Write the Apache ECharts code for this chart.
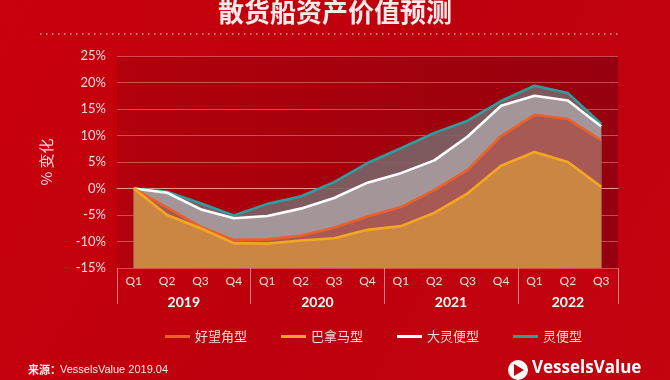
<!DOCTYPE html>
<html><head><meta charset="utf-8">
<script src="https://cdn.jsdelivr.net/npm/echarts@6/dist/echarts.min.js"></script>
<style>html,body{margin:0;padding:0;background:#c2000b}#c{width:670px;height:380px}</style>
</head><body><div id="c"></div>
<script>
var quarters = ['Q1','Q2','Q3','Q4','Q1','Q2','Q3','Q4','Q1','Q2','Q3','Q4','Q1','Q2','Q3'];
var years = ['2019','2020','2021','2022'];
var quartersPerYear = [4,4,4,3];
var yTicks = [-15,-10,-5,0,5,10,15,20,25];
var capesize = [0,-3.6,-7.2,-9.7,-9.6,-8.9,-7.4,-5.3,-3.5,-0.3,3.5,9.9,13.9,13.1,9.1];
var panamax = [0,-5,-7.5,-10.3,-10.4,-9.8,-9.4,-7.8,-7.1,-4.6,-0.9,4.3,6.9,5.0,0.3];
var supramax = [0,-0.8,-3.9,-5.6,-5.2,-3.8,-1.8,1.1,2.9,5.3,9.8,15.6,17.5,16.6,11.7];
var handysize = [0,-0.6,-2.8,-5.1,-2.9,-1.5,1.2,4.8,7.6,10.5,12.8,16.5,19.4,18.0,12.2];
var names = ['好望角型','巴拿马型','大灵便型','灵便型'];

var yearBounds = [0], yearCenters = [];
quartersPerYear.forEach(function(n,i){ var s=yearBounds[i]; yearBounds.push(s+n); yearCenters.push(s+n/2); });

var chart = echarts.init(document.getElementById('c'), null, {renderer:'canvas'});
var fontCJK = '"Noto Sans CJK SC", "Noto Sans", sans-serif';
function area(name, data, line, fill, z){
  return {name:name, type:'line', data:data, symbol:'none', z:z,
    lineStyle:{color:line, width:2.6}, itemStyle:{color:line},
    areaStyle:{color:fill, opacity:0.9, origin:'start'}};
}
chart.setOption({
  backgroundColor: new echarts.graphic.LinearGradient(0,0,1,1,[{offset:0,color:'#c9000c'},{offset:0.5,color:'#bd000d'},{offset:1,color:'#c4040f'}]),
  animation:false,
  title:{text:'散货船资产价值预测', left:'center', top:-6,
    textStyle:{color:'#fbeaea', fontSize:26, fontWeight:'bold', fontFamily:fontCJK}},
  grid:{left:117, right:52, top:56, bottom:112, show:true, borderWidth:0,
    backgroundColor: new echarts.graphic.LinearGradient(0,0,1,0,[{offset:0,color:'#b2000c'},{offset:1,color:'#96000e'}])},
  legend:{data:names, left:160, top:325, itemWidth:25, itemHeight:3, itemGap:34, icon:'rect',
    textStyle:{color:'#f6dada', fontSize:13, fontFamily:fontCJK}},
  xAxis:[{type:'category', data:quarters, boundaryGap:true,
      axisLine:{show:true, lineStyle:{color:'rgba(255,175,175,0.7)', width:1}},
      axisTick:{show:false},
      axisLabel:{color:'#f6dada', fontSize:12, margin:7, fontFamily:'Lato, sans-serif', interval:0},
      splitLine:{show:false}},
    {type:'value', min:0, max:quarters.length, position:'bottom',
      axisLine:{show:false}, splitLine:{show:false},
      axisTick:{show:true, customValues:yearBounds, length:36, lineStyle:{color:'rgba(255,175,175,0.7)', width:1}},
      axisLabel:{customValues:yearCenters, margin:27, color:'#ffffff', fontSize:14, fontWeight:'bold', fontFamily:'Lato, sans-serif',
        formatter:function(v){ var i = yearCenters.indexOf(v); return i>=0 ? years[i] : ''; }}}],
  yAxis:{type:'value', min:yTicks[0], max:yTicks[yTicks.length-1], interval:5,
    name:'% 变化', nameLocation:'middle', nameRotate:90, nameGap:63,
    nameTextStyle:{color:'#f6dada', fontSize:15, fontFamily:fontCJK},
    axisLine:{show:false}, axisTick:{show:false},
    axisLabel:{color:'#f6dada', fontSize:13, margin:11, fontFamily:'Lato, sans-serif', formatter:'{value}%'},
    splitLine:{lineStyle:{color:'rgba(255,165,165,0.45)', width:1}}},
  series:[
    area(names[3], handysize, '#2f9e9e', '#7a6366', 1),
    area(names[2], supramax, '#ffffff', '#a89c9e', 2),
    area(names[0], capesize, '#e9602c', '#a8524d', 3),
    area(names[1], panamax, '#f5a623', '#ce8b43', 4)
  ],
  graphic:[
    {type:'line', shape:{x1:40,y1:34,x2:620,y2:34}, style:{stroke:'rgba(255,205,205,0.75)', lineWidth:1.5, lineDash:[1.5,4.5]}},
    {type:'text', left:28, top:364, style:{text:'来源：', fill:'#fbeaea', font:'bold 11px "Noto Sans CJK SC"'}},
    {type:'text', left:60, top:364, style:{text:'VesselsValue 2019.04', fill:'#fbeaea', font:'11px "Liberation Sans", sans-serif'}},
    {type:'circle', shape:{cx:518, cy:370, r:10}, style:{fill:'#ffffff'}},
    {type:'polygon', shape:{points:[[514,364],[524,370],[514,376]]}, style:{fill:'#c2000b'}},
    {type:'text', left:532, top:360, style:{text:'VesselsValue', fill:'#ffffff', font:'bold 17px "Open Sans", sans-serif'}}
  ]
});
</script></body></html>
